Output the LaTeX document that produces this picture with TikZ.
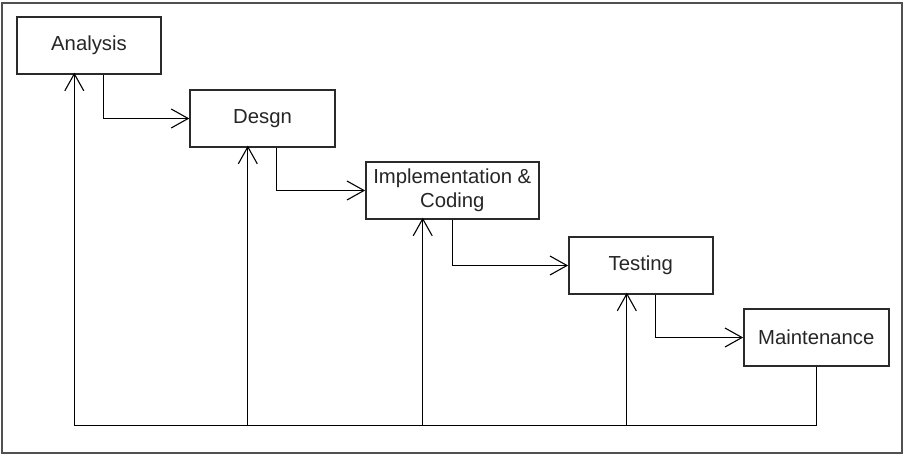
\documentclass[tikz,border=0pt]{standalone}
\usepackage{fontspec}
\setmainfont{Liberation Sans}
\usetikzlibrary{arrows.meta}
\definecolor{boxgray}{HTML}{2A2A2A}
\definecolor{framegray}{HTML}{505050}
\definecolor{txtgray}{HTML}{262626}
\begin{document}
\begin{tikzpicture}[x=1pt,y=-1pt,
  phase/.style={draw=boxgray, line width=1.4pt, fill=white, inner sep=0pt,
    minimum height=57pt, align=center, text=txtgray,
    font=\fontsize{20.3}{24}\selectfont},
  conn/.style={draw=black, line width=1.1pt},
  arr/.style={conn, -{Straight Barb[length=17pt,width=19pt]}}]
\useasboundingbox (0,0) rectangle (904,458);
\draw[framegray, line width=2pt] (2,3) rectangle (902,453);
\node[phase, minimum width=144pt] (A) at (89,45.5) {Analysis};
\node[phase, minimum width=145pt] (D) at (262.5,118.5) {Desgn};
\node[phase, minimum width=173pt] (I) at (452.3,190.5) {Implementation \&\\Coding};
\node[phase, minimum width=144pt] (T) at (640.8,265.5) {Testing};
\node[phase, minimum width=145pt] (M) at (816.3,337.5) {Maintenance};
% forward connectors
\coordinate (fa) at ([xshift=87pt]A.south west);
\coordinate (fd) at ([xshift=87pt]D.south west);
\coordinate (fi) at ([xshift=87pt]I.south west);
\coordinate (ft) at ([xshift=87pt]T.south west);
\draw[arr] (fa) |- (D.west);
\draw[arr] (fd) |- (I.west);
\draw[arr] (fi) |- (T.west);
\draw[arr] (ft) |- (M.west);
% feedback
\coordinate (base) at (75,425.5);
\coordinate (ba) at ([xshift=58pt]A.south west);
\coordinate (bd) at ([xshift=58.5pt]D.south west);
\coordinate (bi) at ([xshift=57.6pt]I.south west);
\coordinate (bt) at ([xshift=58.7pt]T.south west);
\draw[conn] (M.south) |- (ba |- base);
\draw[arr] (ba |- base) -- ([yshift=2pt]ba);
\draw[arr] (bd |- base) -- ([yshift=2pt]bd);
\draw[arr] (bi |- base) -- ([yshift=2pt]bi);
\draw[arr] (bt |- base) -- ([yshift=2pt]bt);
\end{tikzpicture}
\end{document}
